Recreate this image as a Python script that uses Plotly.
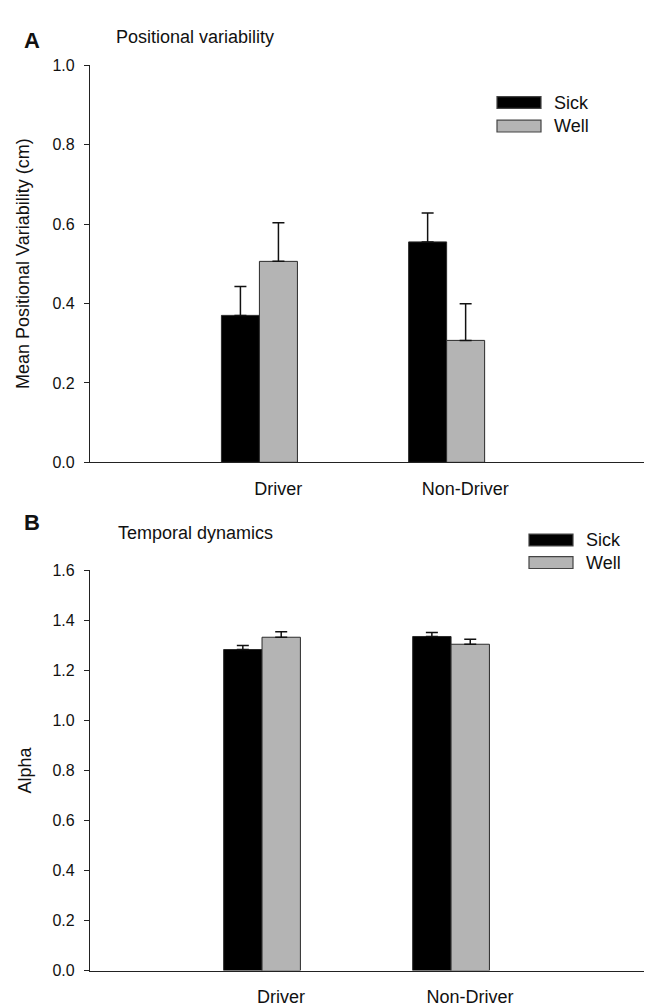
import plotly.graph_objects as go

# ---- data ----
categories = ["Driver", "Non-Driver"]
series_names = ["Sick", "Well"]

pos_sick = [0.370, 0.555]
pos_sick_err = [0.073, 0.073]
pos_well = [0.506, 0.307]
pos_well_err = [0.097, 0.092]

alpha_sick = [1.284, 1.336]
alpha_sick_err = [0.016, 0.016]
alpha_well = [1.333, 1.305]
alpha_well_err = [0.022, 0.020]

pos_ticks = [0.0, 0.2, 0.4, 0.6, 0.8, 1.0]
alpha_ticks = [0.0, 0.2, 0.4, 0.6, 0.8, 1.0, 1.2, 1.4, 1.6]

# ---- styling ----
W, H = 652, 1007
FONT = "Liberation Sans, Arial, sans-serif"
colors = {"Sick": "#000000", "Well": "#b4b4b4"}
edge = "#2a2a2a"


def px_x(p):
    return p / W


def px_y(p):
    return 1 - p / H


xpos = list(range(len(categories)))

fig = go.Figure()

panels = [
    ("x", "y", [pos_sick, pos_well], [pos_sick_err, pos_well_err]),
    ("x2", "y2", [alpha_sick, alpha_well], [alpha_sick_err, alpha_well_err]),
]
for xa, ya, vals, errs in panels:
    for name, v, e in zip(series_names, vals, errs):
        fig.add_trace(go.Bar(
            x=xpos, y=v, name=name, xaxis=xa, yaxis=ya,
            marker=dict(color=colors[name], line=dict(color=edge, width=1)),
            error_y=dict(type="data", array=e, arrayminus=[0] * len(e),
                         symmetric=False, color="#111111", thickness=1.5, width=6),
            showlegend=False,
        ))

axis_common = dict(showgrid=False, zeroline=False, showline=True,
                   linecolor="#222222", linewidth=1.2)

fig.update_layout(
    width=W, height=H,
    margin=dict(l=0, r=0, t=0, b=0),
    plot_bgcolor="white", paper_bgcolor="white",
    font=dict(family=FONT, color="#111111"),
    barmode="group", bargap=0.594, bargroupgap=0,
    xaxis=dict(domain=[px_x(82), px_x(644)], range=[-0.905, 2.097],
               anchor="y", tickmode="array",
               tickvals=[i + 0.1 for i in xpos], ticktext=categories,
               ticks="", tickfont=dict(size=18), ticklabelstandoff=10,
               **axis_common),
    yaxis=dict(domain=[px_y(454), px_y(50)], range=[0, 1.0], anchor="x",
               tickmode="array", tickvals=pos_ticks,
               ticktext=[f"{t:.1f}" for t in pos_ticks],
               ticks="outside", ticklen=5, tickcolor="#222222",
               tickfont=dict(size=16), ticklabelstandoff=6,
               title=dict(text="Mean Positional Variability (cm)",
                          font=dict(size=18), standoff=18),
               **axis_common),
    xaxis2=dict(domain=[px_x(82), px_x(644)], range=[-0.910, 2.063],
                anchor="y2", tickmode="array",
                tickvals=[i + 0.1 for i in xpos], ticktext=categories,
                ticks="", tickfont=dict(size=18), ticklabelstandoff=10,
                **axis_common),
    yaxis2=dict(domain=[px_y(971), px_y(564)], range=[0, 1.6], anchor="x2",
                tickmode="array", tickvals=alpha_ticks,
                ticktext=[f"{t:.1f}" for t in alpha_ticks],
                ticks="outside", ticklen=5, tickcolor="#222222",
                tickfont=dict(size=16), ticklabelstandoff=6,
                title=dict(text="Alpha", font=dict(size=18), standoff=16),
                **axis_common),
)

# panel letters and titles
ann = [
    dict(text="<b>A</b>", x=px_x(14), y=px_y(25), size=22),
    dict(text="Positional variability", x=px_x(106), y=px_y(21), size=18),
    dict(text="<b>B</b>", x=px_x(14), y=px_y(515), size=22),
    dict(text="Temporal dynamics", x=px_x(108), y=px_y(526), size=18),
]
for a in ann:
    fig.add_annotation(text=a["text"], x=a["x"], y=a["y"], xref="paper", yref="paper",
                       xanchor="left", yanchor="middle", showarrow=False,
                       font=dict(size=a["size"], family=FONT, color="#111111"))

# legends (drawn as swatches + labels)
legends = [
    (489, 533, [(82, 94), (106, 118)], 544),
    (521, 565, [(527, 539), (550, 562)], 576),
]
for x0, x1, rows, tx in legends:
    for name, (y0, y1) in zip(series_names, rows):
        fig.add_shape(type="rect", xref="paper", yref="paper",
                      x0=px_x(x0), x1=px_x(x1), y0=px_y(y1), y1=px_y(y0),
                      fillcolor=colors[name], line=dict(color="#444444", width=1.2))
        fig.add_annotation(text=name, x=px_x(tx), y=px_y((y0 + y1) / 2),
                           xref="paper", yref="paper", xanchor="left", yanchor="middle",
                           showarrow=False, font=dict(size=18, family=FONT, color="#111111"))

fig.write_html("out.html")
